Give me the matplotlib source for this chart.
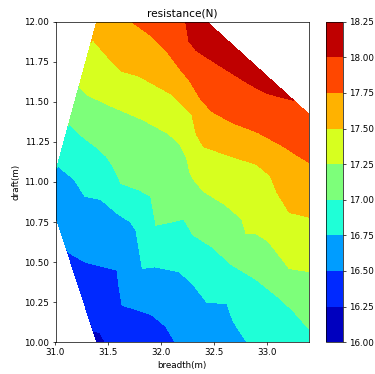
import matplotlib
matplotlib.use("Agg")
import matplotlib.pyplot as plt

# sampled designs: breadth (m), draft (m), resistance (N)
breadth = [
    # corners of the sampled region
    31.39, 32.43, 33.40, 33.40, 31.39, 31.00, 31.00,
    # ~18.00
    32.23, 32.26, 32.33, 32.40, 32.52, 32.76, 32.89, 33.01, 33.25,
    # ~17.75
    31.72, 31.91, 32.07, 32.17, 32.26, 32.38, 32.48, 32.67, 32.91, 33.16, 33.30, 33.40,
    # ~17.50
    31.35, 31.48, 31.63, 31.79, 32.09, 32.29, 32.33, 32.40, 32.66, 32.90, 33.03, 33.09, 33.21, 33.40,
    # ~17.25
    31.23, 31.31, 31.50, 31.82, 32.07, 32.18, 32.24, 32.27, 32.30, 32.40, 32.60, 32.76, 32.80, 32.89,
    33.01, 33.14, 33.21, 33.40,
    # ~17.00
    31.13, 31.26, 31.38, 31.48, 31.55, 31.62, 31.79, 31.90, 31.93, 31.95, 32.10, 32.21, 32.30, 32.49,
    32.65, 32.90, 33.09, 33.24, 33.40,
    # ~16.75
    31.02, 31.17, 31.28, 31.43, 31.59, 31.71, 31.76, 31.79, 31.82, 31.94, 32.17, 32.30, 32.43, 32.62,
    32.70, 32.68, 32.81,
    # ~16.50
    31.12, 31.28, 31.57, 31.58, 31.60, 31.63, 31.78, 31.91, 32.04, 32.13,
    # ~16.25
    31.36, 31.42, 31.47,
    # others
    32.00, 32.60, 32.45, 31.55, 33.20, 32.00, 32.70, 33.20, 31.80, 32.60, 33.20, 31.30, 32.10, 32.90,
    31.20, 32.00, 32.40, 32.45, 31.40, 31.80,
]
draft = [
    12.00, 12.00, 11.42, 10.00, 10.00, 10.79, 11.06,
    12.00, 11.88, 11.82, 11.79, 11.74, 11.64, 11.59, 11.55, 11.51,
    12.00, 11.91, 11.80, 11.71, 11.64, 11.51, 11.44, 11.37, 11.31, 11.22, 11.16, 11.12,
    11.89, 11.79, 11.69, 11.66, 11.55, 11.42, 11.30, 11.22, 11.16, 11.11, 11.04, 10.94, 10.81, 10.78,
    11.59, 11.54, 11.48, 11.39, 11.30, 11.23, 11.15, 11.06, 11.02, 10.94, 10.86, 10.77, 10.68, 10.68,
    10.63, 10.52, 10.46, 10.44,
    11.36, 11.28, 11.22, 11.16, 11.09, 10.99, 10.95, 10.91, 10.80, 10.73, 10.75, 10.77, 10.67, 10.59,
    10.49, 10.39, 10.29, 10.20, 10.08,
    11.10, 11.02, 10.91, 10.89, 10.80, 10.75, 10.70, 10.58, 10.46, 10.47, 10.44, 10.36, 10.25, 10.24,
    10.18, 10.13, 10.00,
    10.56, 10.50, 10.58, 10.45, 10.35, 10.23, 10.20, 10.17, 10.10, 10.00,
    10.07, 10.06, 10.00,
    12.00, 11.55, 11.88, 11.90, 11.00, 11.45, 10.98, 10.62, 11.17, 10.68, 10.35, 11.08, 10.60, 10.20,
    10.72, 10.30, 10.10, 10.00, 10.30, 10.08,
]
resistance = [
    17.62, 18.15, 17.95, 16.95, 16.18, 16.60, 16.73,
] + [18.00] * 9 + [17.75] * 12 + [17.50] * 14 + [17.25] * 18 + [17.00] * 19 + [16.75] * 17 \
  + [16.50] * 10 + [16.25] * 3 + [
    17.88, 17.87, 18.10, 17.62, 17.62, 17.38, 17.37, 17.37, 17.12, 17.12, 17.12, 16.88, 16.88, 16.88,
    16.62, 16.62, 16.60, 16.62, 16.38, 16.38,
]

levels = [16.00, 16.25, 16.50, 16.75, 17.00, 17.25, 17.50, 17.75, 18.00, 18.25]
xticks = [31.0, 31.5, 32.0, 32.5, 33.0]
yticks = [10.00, 10.25, 10.50, 10.75, 11.00, 11.25, 11.50, 11.75, 12.00]

fig = plt.figure(figsize=(3.75, 3.74), dpi=100)
ax = fig.add_axes([0.148, 0.085, 0.677, 0.857])
cax = fig.add_axes([0.8685, 0.085, 0.047, 0.857])

cs = ax.tricontourf(breadth, draft, resistance, levels=levels, cmap="jet")
cb = fig.colorbar(cs, cax=cax)
cb.set_ticks(levels)
cb.ax.set_yticklabels(["%.2f" % v for v in levels])
cb.ax.tick_params(labelsize=6.3, length=2.2, width=0.5, pad=2.2)
cb.outline.set_linewidth(0.5)

ax.set_xlim(31.0, 33.4)
ax.set_ylim(10.0, 12.0)
ax.set_xticks(xticks)
ax.set_xticklabels(["%.1f" % v for v in xticks])
ax.set_yticks(yticks)
ax.set_yticklabels(["%.2f" % v for v in yticks])
ax.tick_params(labelsize=6.3, length=2.2, width=0.5, pad=2.2)
for s in ax.spines.values():
    s.set_linewidth(0.5)

ax.set_title("resistance(N)", fontsize=7.6, pad=3.8)
ax.set_xlabel("breadth(m)", fontsize=6.3, labelpad=2.5)
ax.set_ylabel("draft(m)", fontsize=6.3, labelpad=2.5)

fig.savefig("out.png", dpi=100)
